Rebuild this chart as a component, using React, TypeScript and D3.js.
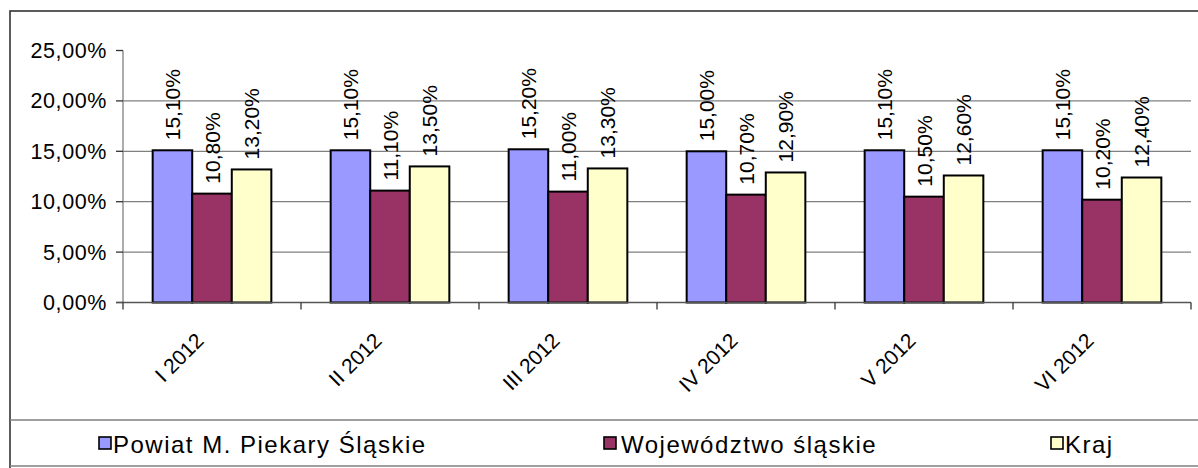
import React from 'react';
import * as d3 from 'd3';

const categories = ['I 2012', 'II 2012', 'III 2012', 'IV 2012', 'V 2012', 'VI 2012'];
const seriesNames = ['Powiat M. Piekary Śląskie', 'Województwo śląskie', 'Kraj'];
const powiat = [15.1, 15.1, 15.2, 15.0, 15.1, 15.1];
const wojewodztwo = [10.8, 11.1, 11.0, 10.7, 10.5, 10.2];
const kraj = [13.2, 13.5, 13.3, 12.9, 12.6, 12.4];
const yTicks = [0, 5, 10, 15, 20, 25];

const colors = ['#9999ff', '#993366', '#ffffcc'];
const FONT = '"Liberation Sans", Arial, sans-serif';
const FS = 21;

const fmt = (v: number) => v.toFixed(2).replace('.', ',') + '%';

export default function App() {
  const width = 1198;
  const height = 468;
  const plot = { left: 123, right: 1191, top: 50.5, bottom: 302.5 };

  const x = d3.scaleBand<string>().domain(categories).range([plot.left, plot.right]).padding(0);
  const inner = d3.scaleBand<number>()
    .domain([0, 1, 2])
    .range([0, x.bandwidth()])
    .paddingInner(0)
    .paddingOuter(0.75);
  const y = d3.scaleLinear().domain([0, 25]).range([plot.bottom, plot.top]);

  const series = [powiat, wojewodztwo, kraj];

  // legend: square x and text x per item
  const legendSq = [99, 604, 1051];
  const legendTx = [113, 621, 1065];
  const legendY = 437;

  return (
    <svg
      width={width}
      height={height}
      style={{ position: 'absolute', left: 0, top: 0, background: '#fff' }}
      fontFamily={FONT}
    >
      <rect x={0} y={0} width={width} height={height} fill="#fff" />
      {/* chart border */}
      <rect x={10} y={11} width={1200} height={470} fill="none" stroke="#333" strokeWidth={1.6} />

      {/* gridlines */}
      {yTicks.filter(t => t > 0 && t < 25).map(t => (
        <line key={'g' + t} x1={plot.left} x2={plot.right} y1={y(t)} y2={y(t)} stroke="#808080" strokeWidth={1.3} />
      ))}

      {/* y axis */}
      <line x1={plot.left} x2={plot.left} y1={plot.top} y2={plot.bottom} stroke="#808080" strokeWidth={1.3} />
      {yTicks.map(t => (
        <g key={'t' + t}>
          <line x1={plot.left - 7} x2={plot.left} y1={y(t)} y2={y(t)} stroke="#333" strokeWidth={1.3} />
          <text x={107} y={y(t)} dy="0.35em" textAnchor="end" fontSize={FS + 0.5} letterSpacing={0.6} fill="#000">{fmt(t)}</text>
        </g>
      ))}

      {/* bars */}
      {categories.map((c, i) => (
        <g key={c}>
          {series.map((s, k) => {
            const bx = (x(c) as number) + (inner(k) as number);
            const bw = inner.bandwidth();
            return (
              <g key={k}>
                <rect x={bx} y={y(s[i])} width={bw} height={y(0) - y(s[i])} fill={colors[k]} stroke="#000" strokeWidth={2} />
                <text
                  transform={`translate(${bx + bw / 2 + 7.5},${y(s[i]) - 10}) rotate(-90)`}
                  textAnchor="start"
                  fontSize={FS}
                  fill="#000"
                >{fmt(s[i])}</text>
              </g>
            );
          })}
        </g>
      ))}

      {/* x axis */}
      <line x1={plot.left - 7} x2={plot.right} y1={plot.bottom} y2={plot.bottom} stroke="#555" strokeWidth={1.3} />
      {[...categories.map(c => x(c) as number), plot.right].map((tx, i) => (
        <line key={'xt' + i} x1={tx} x2={tx} y1={plot.bottom} y2={plot.bottom + 7} stroke="#333" strokeWidth={1.3} />
      ))}
      {categories.map(c => {
        const cx = (x(c) as number) + x.bandwidth() / 2;
        return (
          <text key={'xl' + c} transform={`translate(${cx - 7},${342}) rotate(-45)`} textAnchor="end" fontSize={FS} fill="#000">{c}</text>
        );
      })}

      {/* legend box lines */}
      <line x1={10} x2={width} y1={420} y2={420} stroke="#808080" strokeWidth={1.6} />
      <line x1={10} x2={width} y1={466} y2={466} stroke="#808080" strokeWidth={1.6} />
      {seriesNames.map((n, k) => (
        <g key={n}>
          <rect x={legendSq[k]} y={legendY} width={12} height={12} fill={colors[k]} stroke="#000" strokeWidth={1.6} />
          <text x={legendTx[k]} y={legendY + 16} fontSize={24} letterSpacing={1.5} fill="#000">{n}</text>
        </g>
      ))}
    </svg>
  );
}
